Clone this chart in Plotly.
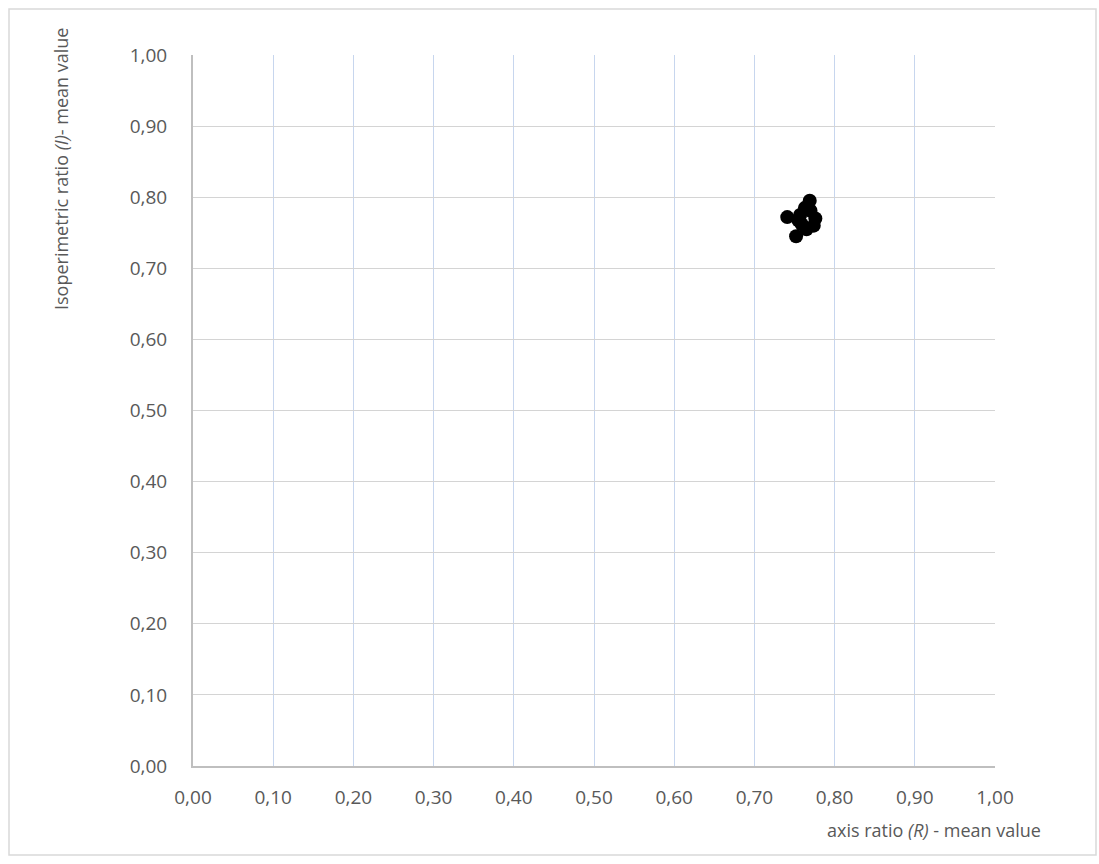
import plotly.graph_objects as go

# Data
axis_ratio_R = [0.769, 0.763, 0.741, 0.755, 0.776, 0.774, 0.765, 0.752, 0.759, 0.770, 0.757]
iso_ratio_I = [0.795, 0.785, 0.772, 0.767, 0.770, 0.760, 0.755, 0.745, 0.762, 0.781, 0.775]
tick_vals = [0.0, 0.1, 0.2, 0.3, 0.4, 0.5, 0.6, 0.7, 0.8, 0.9, 1.0]
tick_text = ["0,00", "0,10", "0,20", "0,30", "0,40", "0,50", "0,60", "0,70", "0,80", "0,90", "1,00"]

W, H = 1099, 864
L, R, T, B = 193, 104, 55, 98
FONT = "Open Sans, Liberation Sans, sans-serif"
TXT = "#595959"

fig = go.Figure()
fig.add_trace(go.Scatter(
    x=axis_ratio_R, y=iso_ratio_I, mode="markers",
    marker=dict(size=14, color="black", line=dict(width=0)),
    showlegend=False, hoverinfo="x+y",
))

fig.update_layout(
    width=W, height=H,
    margin=dict(l=L, r=R, t=T, b=B),
    paper_bgcolor="white", plot_bgcolor="white",
    font=dict(family=FONT, color=TXT, size=19),
    xaxis=dict(
        range=[0, 1], tickvals=tick_vals, ticktext=tick_text,
        showgrid=True, gridcolor="#c7d6ee", gridwidth=1,
        showline=True, linecolor="#bfbfbf", linewidth=2,
        zeroline=False, ticks="", ticklabelstandoff=13,
        tickfont=dict(size=19, color=TXT, family=FONT),
    ),
    yaxis=dict(
        range=[0, 1], tickvals=tick_vals, ticktext=tick_text,
        showgrid=True, gridcolor="#d4d4d4", gridwidth=1,
        showline=True, linecolor="#bfbfbf", linewidth=2,
        zeroline=False, ticks="", ticklabelstandoff=20,
        tickfont=dict(size=19, color=TXT, family=FONT),
    ),
    annotations=[
        dict(text="axis ratio <i>(R)</i> - mean value", xref="paper", yref="paper",
             x=(1043 - L) / (W - L - R), y=-(830 - (H - B)) / (H - T - B),
             xanchor="right", yanchor="middle", showarrow=False,
             font=dict(size=18, color=TXT, family=FONT)),
        dict(text="Isoperimetric ratio <i>(I)</i>- mean value", xref="paper", yref="paper",
             x=-(L - 61) / (W - L - R), y=1 + (T - 26) / (H - T - B),
             xanchor="center", yanchor="top", textangle=-90, showarrow=False,
             font=dict(size=18, color=TXT, family=FONT)),
    ],
    shapes=[
        dict(type="rect", xref="paper", yref="paper",
             x0=-(L - 9) / (W - L - R), y0=-(855 - (H - T - B) - T) / (H - T - B),
             x1=1 + (R - 3) / (W - L - R), y1=1 + (T - 9) / (H - T - B),
             line=dict(color="#d9d9d9", width=1.5), layer="below"),
    ],
)

fig.write_html("out.html")
